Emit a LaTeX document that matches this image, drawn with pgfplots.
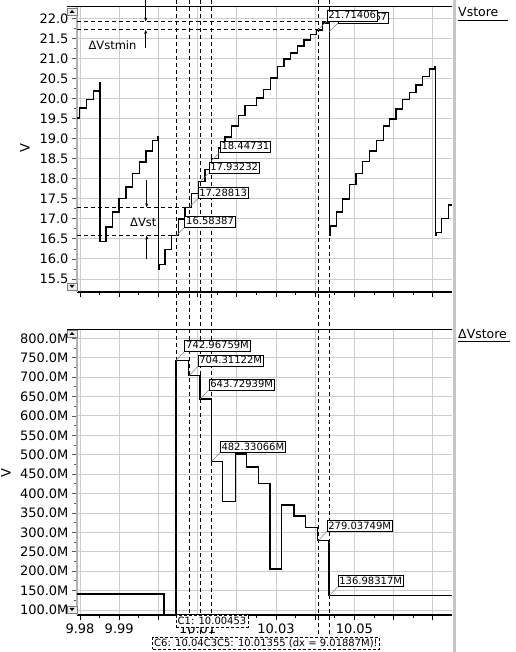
\documentclass[border=0pt]{standalone}
\usepackage{pgfplots}
\pgfplotsset{compat=1.18}
\usepackage{fontspec}
\setmainfont{DejaVu Sans}
\usetikzlibrary{arrows.meta}
\pgfplotsset{/pgf/number format/assume math mode=true}
\tikzset{
  cursor/.style={black, line width=0.7pt, dash pattern=on 4pt off 3pt},
  vbox/.style={draw=black, fill=white, text=black, line width=0.6pt, inner xsep=1.5pt, inner ysep=1pt, outer sep=0pt, anchor=south west, font=\fontsize{10}{10}\selectfont, text height=7.5pt, text depth=1.5pt},
  cbox/.style={draw=black, fill=white, text=black, line width=0.6pt, dash pattern=on 3pt off 2pt, inner xsep=1.5pt, inner ysep=1.5pt, outer sep=0pt, font=\fontsize{10}{10}\selectfont, text height=7.5pt, text depth=1.5pt},
  leader/.style={gray, line width=0.5pt},
  dim/.style={black, line width=0.6pt, -{Stealth[length=4pt,width=3pt]}},
}
\pgfplotsset{
  scopestyle/.style={
    width=375pt, scale only axis,
    xmin=9.97923, xmax=10.0749,
    clip=false,
    axis lines=left, axis line style={-},
    x axis line style={black, line width=1.2pt},
    y axis line style={gray!60, line width=1.5pt},
    tick align=outside,
    major tick length=5pt, minor tick length=3pt,
    xtick={9.98,9.99,10,10.01,10.02,10.03,10.04,10.05,10.06,10.07},
    minor x tick num=1,
    minor y tick num=1,
    grid=major, grid style={gray!40, line width=0.9pt},
    xtick style={black, line width=0.8pt},
    ytick style={gray!70!black, line width=0.8pt},
    tick label style={font=\fontsize{13}{13}\selectfont},
  }
}
\begin{document}
\begin{tikzpicture}[x=1pt,y=1pt]
\useasboundingbox (0,0) rectangle (515,652);
\fill[gray!45] (453,0) rectangle (456,652);
% ---------------- top axis: Vstore ----------------
\begin{axis}[
  scopestyle,
  at={(77pt,360pt)}, anchor=south west,
  height=285pt,
  ymin=15.176, ymax=22.282,
  xticklabels={},
  ytick={15.5,16,16.5,17,17.5,18,18.5,19,19.5,20,20.5,21,21.5,22},
  yticklabel style={/pgf/number format/.cd, fixed, fixed zerofill, precision=1},
]
\addplot[const plot, black, line width=1.5pt] coordinates {
(9.97930,19.51) (9.97987,19.76) (9.98171,19.98) (9.98340,20.19) (9.98492,20.39)
(9.98510,16.43) (9.98663,16.80) (9.98834,17.17) (9.98995,17.51) (9.99173,17.79)
(9.99344,18.13) (9.99513,18.42) (9.99684,18.69) (9.99855,18.95) (9.99982,19.05)
(9.99997,15.74) (10.00015,15.86) (10.00168,16.24) (10.00339,16.58387) (10.00508,17.00)
(10.00679,17.28813) (10.00849,17.63) (10.01018,17.93232) (10.01189,18.23) (10.01350,18.50)
(10.01528,18.77) (10.01699,19.04) (10.01870,19.31) (10.02038,19.58) (10.02209,19.82)
(10.02508,20.01) (10.02676,20.22) (10.02865,20.51) (10.03033,20.80) (10.03204,20.98)
(10.03375,21.14) (10.03543,21.31) (10.03714,21.46) (10.03885,21.60) (10.04038,21.71406)
(10.04191,21.88) (10.04339,21.92) (10.04360,16.59) (10.04378,16.82) (10.04548,17.17)
(10.04702,17.50) (10.04870,17.86) (10.05041,18.13) (10.05212,18.43) (10.05380,18.69)
(10.05569,18.95) (10.05737,19.31) (10.05890,19.49) (10.06061,19.74) (10.06232,19.97)
(10.06401,20.15) (10.06571,20.34) (10.06742,20.55) (10.06911,20.73) (10.07043,20.80)
(10.07064,16.59) (10.07082,16.66) (10.07227,17.01) (10.07395,17.34) (10.07490,17.34)
};
% frame top line
\draw[black, line width=1pt] ([xshift=-10pt]rel axis cs:0,1) -- (rel axis cs:1,1);
% cursors
\foreach \c in {10.00453,10.00788,10.01069,10.01355,10.04079,10.04360}{
  \edef\tmp{\noexpand\draw[cursor] (axis cs:\c,22.457) -- (axis cs:\c,14.246);}\tmp
}
% Delta Vstmin
\draw[cursor] (axis cs:9.97923,21.92) -- (axis cs:10.04360,21.92);
\draw[cursor] (axis cs:9.97923,21.71406) -- (axis cs:10.04079,21.71406);
\draw[dim] (axis cs:9.99676,22.457) -- (axis cs:9.99676,21.92);
\draw[dim] (axis cs:9.99676,21.26) -- (axis cs:9.99676,21.71406);
\node[anchor=base west, inner sep=0pt, font=\fontsize{11.5}{11.5}\selectfont] at (axis cs:9.98212,21.234) {ΔVstmin};
% Delta Vst
\draw[cursor] (axis cs:9.97923,17.28813) -- (axis cs:10.00788,17.28813);
\draw[cursor] (axis cs:9.97923,16.58387) -- (axis cs:10.00453,16.58387);
\draw[dim] (axis cs:9.99702,17.966) -- (axis cs:9.99702,17.28813);
\draw[dim] (axis cs:9.99702,15.989) -- (axis cs:9.99702,16.58387);
\node[anchor=base west, inner sep=0pt, font=\fontsize{11.5}{11.5}\selectfont] at (axis cs:9.99276,16.819) {ΔVst};
% value boxes
\draw[leader] (axis cs:10.00453,16.58387) -- ++(8.5pt,8.5pt) node[vbox]{16.58387};
\draw[leader] (axis cs:10.00788,17.28813) -- ++(8.5pt,8.5pt) node[vbox]{17.28813};
\draw[leader] (axis cs:10.01069,17.93232) -- ++(8.5pt,8.5pt) node[vbox]{17.93232};
\draw[leader] (axis cs:10.01355,18.44731) -- ++(8.5pt,8.5pt) node[vbox]{18.44731};
\draw[leader] (axis cs:10.04360,21.666) -- ++(8.5pt,8.5pt) node[vbox]{21.66667};
\draw[leader] (axis cs:10.04079,21.71406) -- ++(8.5pt,8.5pt) node[vbox]{21.71406};
\end{axis}
% ---------------- bottom axis: Delta Vstore ----------------
\begin{axis}[
  scopestyle,
  at={(77pt,37pt)}, anchor=south west,
  height=285.7pt,
  ymin=87.1, ymax=823.2,
  xticklabels={9.98,9.99,{},10.01,{},10.03,{},10.05,{},{}},
  ytick={100,150,200,250,300,350,400,450,500,550,600,650,700,750,800},
  yticklabel={\pgfmathprintnumber[fixed,fixed zerofill,precision=1]{\tick}M},
]
\addplot[const plot, black, line width=1.5pt] coordinates {
(9.97923,141) (10.00143,87.1) (10.00449,742.96759) (10.00770,704.31122)
(10.01060,643.72939) (10.01350,482.33066) (10.01640,379) (10.01962,502)
(10.02253,469) (10.02549,426.5) (10.02847,205) (10.03145,370.6)
(10.03459,342) (10.03758,313) (10.04054,279.03749) (10.04357,136.98317)
(10.07490,136.98317)
};
\draw[black, line width=1pt] ([xshift=-10pt]rel axis cs:0,1) -- (rel axis cs:1,1);
\draw[cursor] (axis cs:10.00453,823.2) -- (axis cs:10.00453,56.2);
\foreach \c in {10.00788,10.01069,10.01355,10.04079,10.04360}{
  \edef\tmp{\noexpand\draw[cursor] (axis cs:\c,823.2) -- (axis cs:\c,30.4);}\tmp
}
\draw[leader] (axis cs:10.00453,742.96759) -- ++(8.5pt,9pt) node[vbox]{742.96759M};
\draw[leader] (axis cs:10.00788,704.31122) -- ++(8.5pt,9pt) node[vbox]{704.31122M};
\draw[leader] (axis cs:10.01069,643.72939) -- ++(8.5pt,9pt) node[vbox]{643.72939M};
\draw[leader] (axis cs:10.01355,482.33066) -- ++(8.5pt,9pt) node[vbox]{482.33066M};
\draw[leader] (axis cs:10.04079,279.03749) -- ++(8.5pt,9pt) node[vbox]{279.03749M};
\draw[leader] (axis cs:10.04360,136.98317) -- ++(8.5pt,9pt) node[vbox]{136.98317M};
\node[cbox, anchor=north west] at (axis cs:10.00453,87.1) {C1: 10.00453};
\node[cbox, anchor=north west] at (axis cs:9.99855,30.4) {C6: 10.04C3C5: 10.01355 (dx = 9.01887M)!};
\end{axis}
% y labels
\node[rotate=90, font=\fontsize{13}{13}\selectfont] at (25,504) {V};
\node[rotate=90, font=\fontsize{13}{13}\selectfont] at (6,179) {V};
% trace names
\node[anchor=base west, inner sep=0pt, font=\fontsize{12.5}{12.5}\selectfont] at (458,635.3) {Vstore};
\draw[line width=0.8pt] (458,632) -- (508,632);
\node[anchor=base west, inner sep=0pt, font=\fontsize{12.5}{12.5}\selectfont] at (458,313.5) {ΔVstore};
\draw[line width=0.8pt] (458,310.3) -- (510,310.3);
% scroll buttons
\foreach \yb/\up in {637/1, 362/0, 315/1, 39/0}{
  \draw[gray, fill=gray!15, line width=0.6pt] (67,\yb) rectangle (77,\yb+7);
  \ifnum\up=1
    \fill (69.5,\yb+2) -- (74.5,\yb+2) -- (72,\yb+5) -- cycle;
  \else
    \fill (69.5,\yb+5) -- (74.5,\yb+5) -- (72,\yb+2) -- cycle;
  \fi
}
\end{tikzpicture}
\end{document}
